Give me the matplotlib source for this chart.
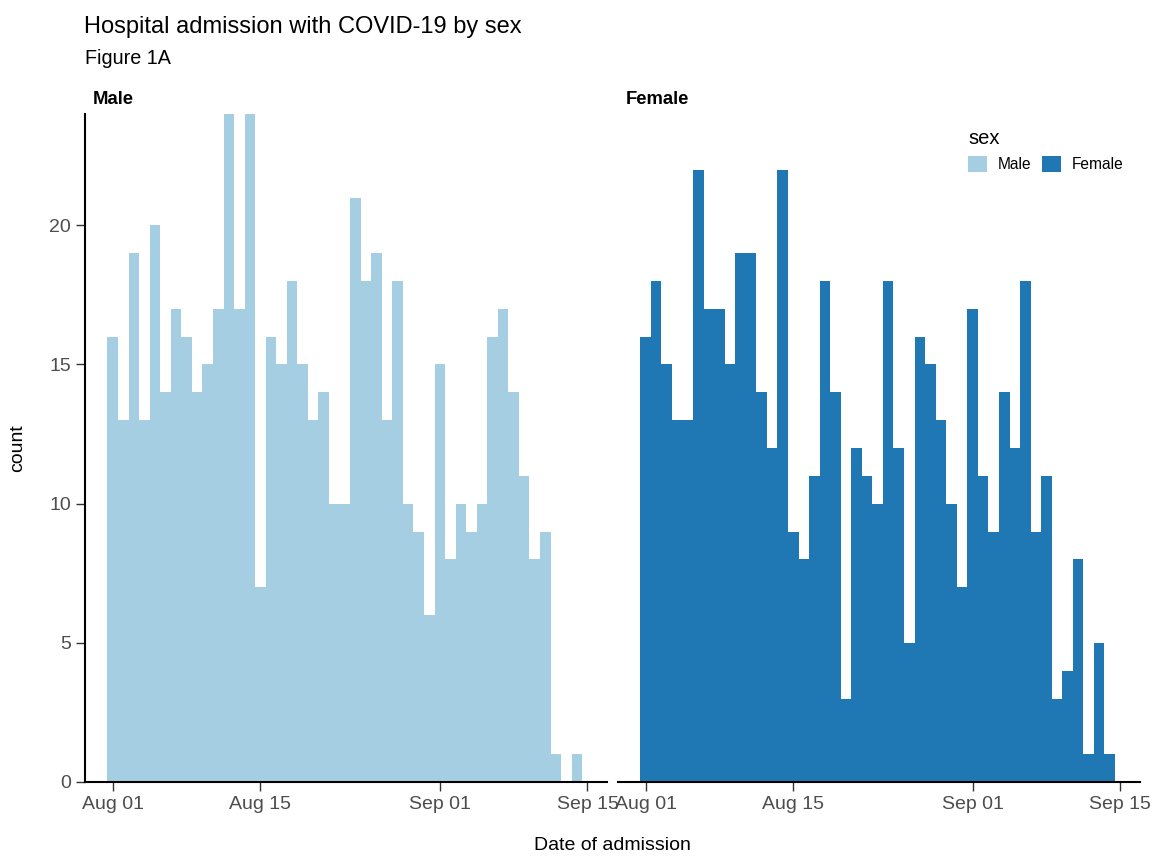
import matplotlib
matplotlib.use("Agg")
import matplotlib.pyplot as plt
import matplotlib.dates as mdates
from matplotlib.patches import Patch
import numpy as np
import datetime as dt

plt.rcParams["font.family"] = ["Liberation Sans", "DejaVu Sans"]

# daily admissions, Aug 01 .. Sep 14
start = dt.date(2020, 8, 1)
days = [start + dt.timedelta(days=i) for i in range(45)]

male = [16, 13, 19, 13, 20, 14, 17, 16, 14, 15, 17, 24, 17, 24, 7,
        16, 15, 18, 15, 13, 14, 10, 10, 21, 18, 19, 13, 18, 10, 9,
        6, 15, 8, 10, 9, 10, 16, 17, 14, 11, 8, 9, 1, 0, 1]
female = [16, 18, 15, 13, 13, 22, 17, 17, 15, 19, 19, 14, 12, 22, 9,
          8, 11, 18, 14, 3, 12, 11, 10, 18, 12, 5, 16, 15, 13, 10,
          7, 17, 11, 9, 14, 12, 18, 9, 11, 3, 4, 8, 1, 5, 1]

panels = ["Male", "Female"]
colors = {"Male": "#a6cee3", "Female": "#1f78b4"}
tick_dates = [dt.date(2020, 8, 1), dt.date(2020, 8, 15), dt.date(2020, 9, 1), dt.date(2020, 9, 15)]

W, H = 1155, 856
fig = plt.figure(figsize=(W / 100, H / 100), dpi=100)

x0 = mdates.date2num(start)
xlim = (x0 - 2.65, x0 + 46.85)

ax1 = fig.add_axes([84.8 / W, 1 - 782 / H, 522.2 / W, 668 / H])
ax2 = fig.add_axes([617.6 / W, 1 - 782 / H, 522.2 / W, 668 / H], sharey=ax1)

for ax, name, vals in [(ax1, "Male", male), (ax2, "Female", female)]:
    ax.bar(mdates.date2num(days), vals, width=1.0, align="center",
           color=colors[name], linewidth=0)
    ax.set_xlim(*xlim)
    ax.set_ylim(0, 24)
    ax.set_xticks(mdates.date2num(tick_dates))
    ax.xaxis.set_major_formatter(mdates.DateFormatter("%b %d"))
    ax.tick_params(axis="both", direction="out", length=6.5, width=1.0,
                   color="#333333", labelcolor="#4d4d4d", labelsize=14, pad=3.5)
    for s in ["top", "right"]:
        ax.spines[s].set_visible(False)
    ax.spines["bottom"].set_linewidth(1.5)
    ax.spines["left"].set_linewidth(1.5)
    ax.set_facecolor("white")

ax1.set_yticks([0, 5, 10, 15, 20])
ax2.spines["left"].set_visible(False)
ax2.tick_params(axis="y", left=False, labelleft=False)

# strip labels
fig.text(93 / W, 1 - 104 / H, "Male", fontsize=13.3, fontweight="bold", ha="left", va="baseline")
fig.text(626 / W, 1 - 104 / H, "Female", fontsize=13.3, fontweight="bold", ha="left", va="baseline")

# titles
fig.text(84 / W, 1 - 33 / H, "Hospital admission with COVID-19 by sex", fontsize=17, ha="left", va="baseline")
fig.text(85 / W, 1 - 64 / H, "Figure 1A", fontsize=14.2, ha="left", va="baseline")

# axis labels
fig.text(612 / W, 1 - 845 / H, "Date of admission", fontsize=14, ha="center", va="center")
fig.text(18 / W, 1 - 448 / H, "count", fontsize=14, rotation=90, ha="center", va="center")

handles = [Patch(facecolor=colors[p], edgecolor="none") for p in panels]
leg = fig.legend(handles, panels, ncol=2, title="sex", loc="upper left",
                 bbox_to_anchor=(968 / W, 1 - 129 / H), frameon=False,
                 fontsize=11.2, title_fontsize=14.5, handlelength=1.22, handleheight=1.22,
                 handletextpad=0.7, columnspacing=0.7, borderpad=0, borderaxespad=0,
                 alignment="left")

fig.savefig("out.png", dpi=100)
